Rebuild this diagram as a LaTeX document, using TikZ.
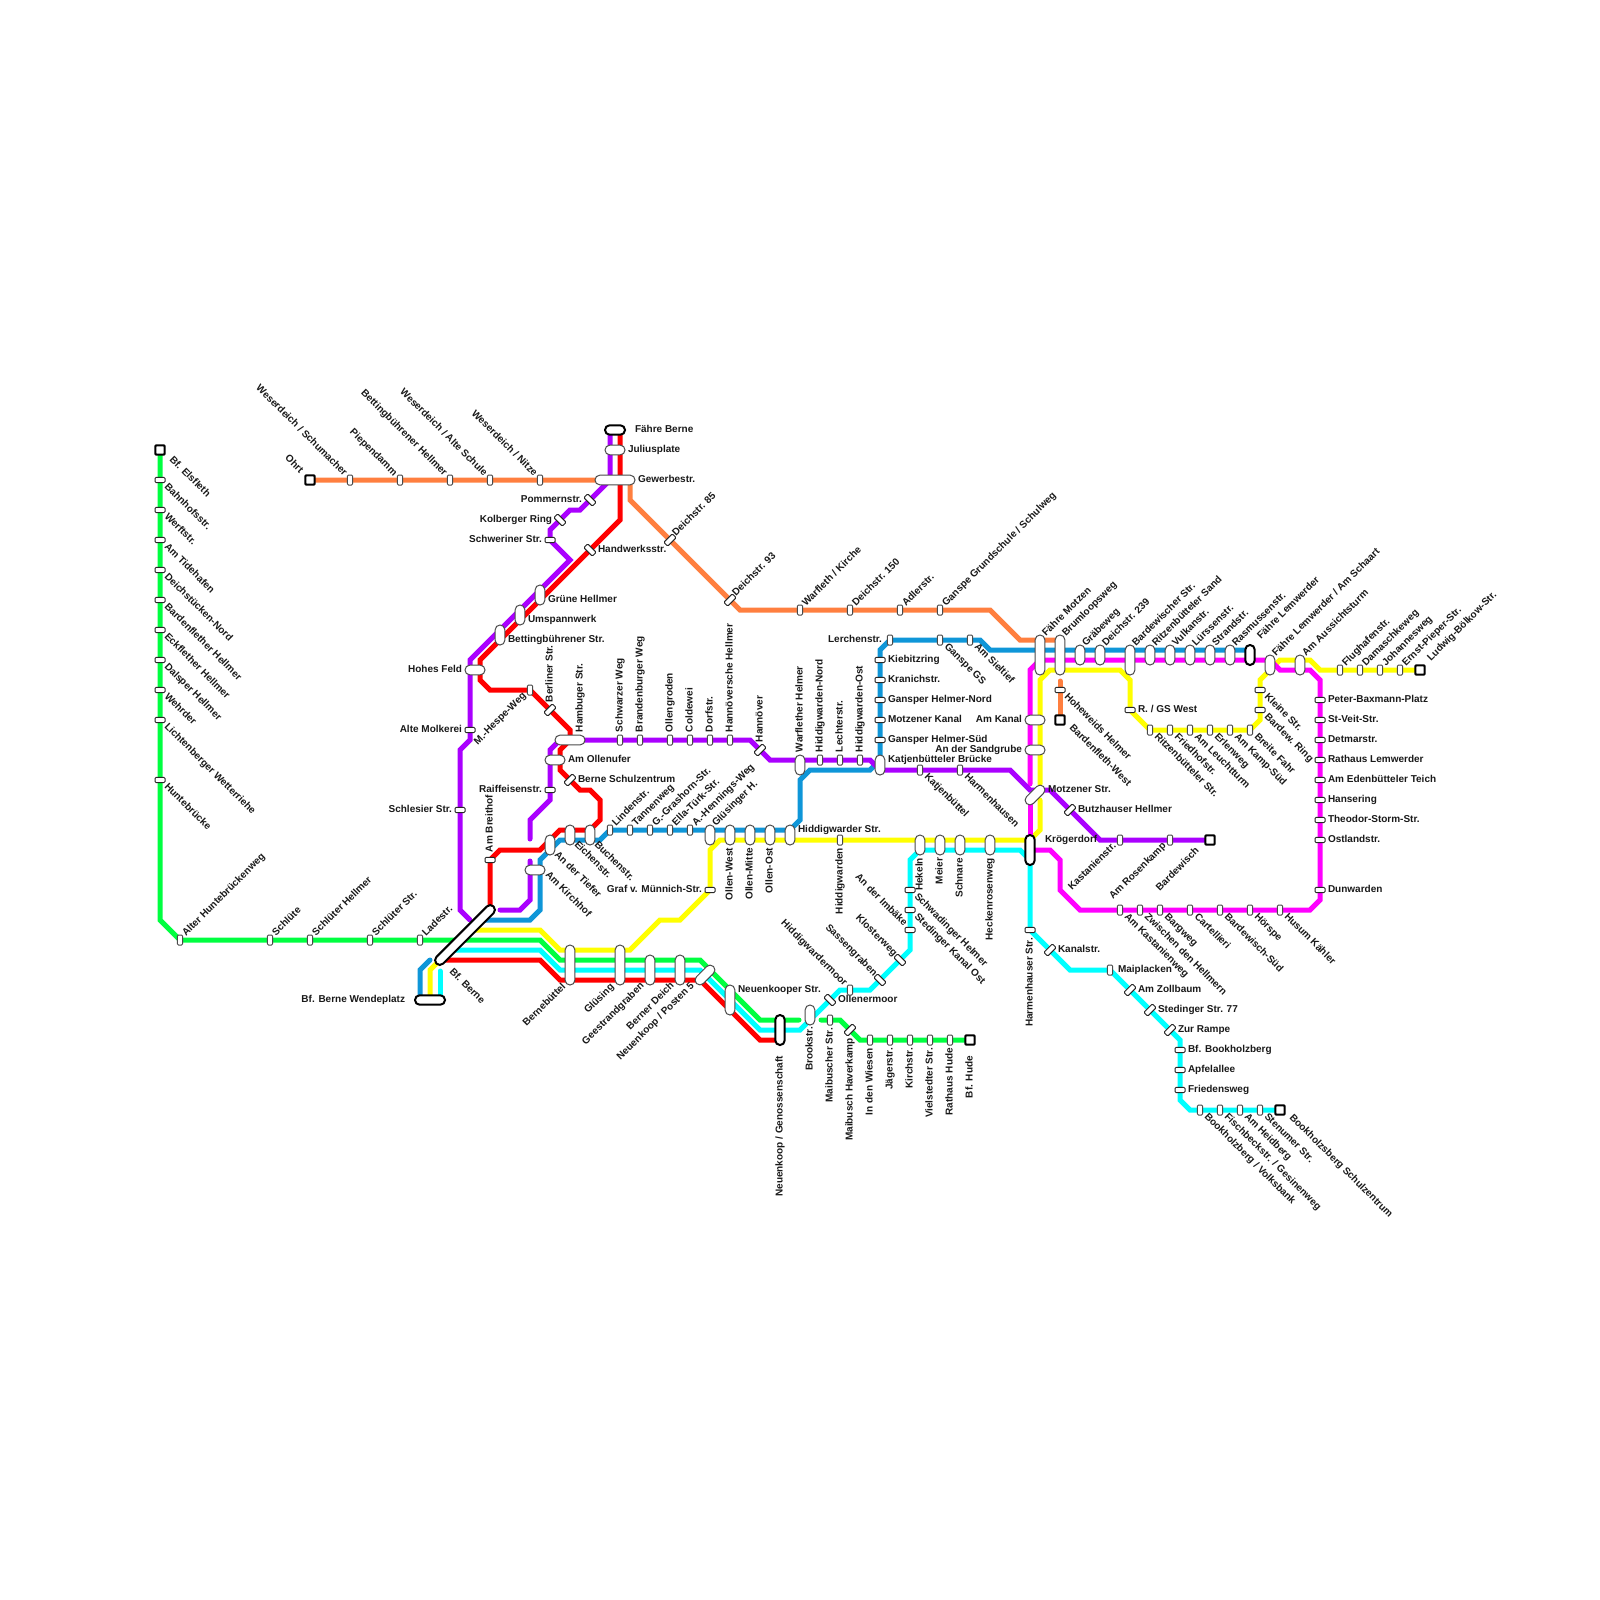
\documentclass[tikz,border=0pt]{standalone}
\usepackage{fontspec}
\setmainfont{Liberation Sans}
\usetikzlibrary{backgrounds}
\definecolor{cG}{HTML}{00FF40}
\definecolor{cO}{HTML}{FF7F3F}
\definecolor{cP}{HTML}{AA00FF}
\definecolor{cR}{HTML}{FF0000}
\definecolor{cY}{HTML}{FFFF00}
\definecolor{cC}{HTML}{00FFFF}
\definecolor{cB}{HTML}{0F96D8}
\definecolor{cM}{HTML}{FF00FF}
\definecolor{edge}{HTML}{4A4A4A}
\tikzset{
  rail/.style={line width=5pt,line cap=round,line join=miter},
  rG/.style={rail,draw=cG},rO/.style={rail,draw=cO},rP/.style={rail,draw=cP},rR/.style={rail,draw=cR},
  rY/.style={rail,draw=cY},rC/.style={rail,draw=cC},rB/.style={rail,draw=cB},rM/.style={rail,draw=cM},
  stop/.style={draw=edge,fill=white,line width=1pt,inner sep=0pt,outer sep=0pt},
  sh/.style={stop,draw=black!85,minimum width=10pt,minimum height=5.4pt,rounded corners=1.2pt},
  sv/.style={stop,minimum width=5.4pt,minimum height=10pt,rounded corners=1.2pt},
  sdu/.style={stop,draw=black!85,minimum width=12pt,minimum height=5.4pt,rounded corners=1.2pt,rotate=45},
  sdd/.style={stop,draw=black!85,minimum width=12pt,minimum height=5.4pt,rounded corners=1.2pt,rotate=-45},
  cv/.style={stop,minimum width=9.6pt,minimum height=#1,rounded corners=4.7pt},
  ch/.style={stop,minimum width=#1,minimum height=9.6pt,rounded corners=4.7pt},
  cdu/.style={stop,minimum width=#1,minimum height=9.6pt,rounded corners=4.7pt,rotate=45},
  term/.style={stop,draw=black,line width=2pt},
  tsq/.style={term,minimum width=9.4pt,minimum height=9.4pt,rounded corners=1pt},
  tv/.style={term,minimum width=9.4pt,minimum height=#1,rounded corners=4.6pt},
  th/.style={term,minimum width=#1,minimum height=9.4pt,rounded corners=4.6pt},
  tdu/.style={term,minimum width=#1,minimum height=9.4pt,rounded corners=4.6pt,rotate=45},
  lab/.style={inner sep=0pt,outer sep=0pt,text=black!90,font=\fontsize{10}{12}\selectfont\bfseries},
  lbR/.style={lab,anchor=base west},
  lbL/.style={lab,anchor=base east},
  lbU/.style={lab,anchor=base west,rotate=90},
  lbD/.style={lab,anchor=base east,rotate=90},
  lbUR/.style={lab,anchor=base west,rotate=45},
  lbDR/.style={lab,anchor=base west,rotate=-45},
  lbDL/.style={lab,anchor=base east,rotate=45},
  lbUL/.style={lab,anchor=base east,rotate=-45},
}
\def\dRx{8}\def\dRy{2.3}
\def\dLx{-8}\def\dLy{2.3}
\def\dUx{2.7}\def\dUy{-8}
\def\dDx{2.7}\def\dDy{8}
\def\dURx{6}\def\dURy{-3.5}
\def\dDRx{4}\def\dDRy{7}
\def\dDLx{-3.5}\def\dDLy{6.5}
\def\dULx{-6.5}\def\dULy{-3.5}
\newcommand\Sx[8]{\node[#2] (#1) at (#3,#4) {};
  \node[lb#5] (#1-l) at ([shift={(\csname d#5x\endcsname,\csname d#5y\endcsname)}]#6,#7) {#8};}
\newcommand\St[6]{\Sx{#1}{#2}{#3}{#4}{#5}{#3}{#4}{#6}}
\newcommand\Bn[3]{\coordinate (#1) at (#2,#3);}
\newcommand\Ln[2]{\gdef\pth{}\foreach \n [count=\i] in {#2}{\ifnum\i=1 \xdef\pth{(\n.center)}\else\xdef\pth{\pth -- (\n.center)}\fi}%
  \begin{pgfonlayer}{background}\edef\tmpd{\noexpand\draw[#1] \pth;}\tmpd\end{pgfonlayer}}
\begin{document}
\begin{tikzpicture}[x=1pt,y=-1pt]
\useasboundingbox (0,0) rectangle (1600,1600);
% ---------- green west
\Sx{elsf}{tsq}{160}{450}{DR}{165}{453}{Bf. Elsfleth}
\St{bahn}{sh}{160}{480}{DR}{Bahnhofsstr.}
\St{werf}{sh}{160}{510}{DR}{Werftstr.}
\St{tide}{sh}{160}{540}{DR}{Am Tidehafen}
\St{dnor}{sh}{160}{570}{DR}{Deichstücken-Nord}
\St{bafl}{sh}{160}{600}{DR}{Bardenflether Hellmer}
\St{eckf}{sh}{160}{630}{DR}{Eckflether Hellmer}
\St{dals}{sh}{160}{660}{DR}{Dalsper Hellmer}
\St{wehr}{sh}{160}{690}{DR}{Wehrder}
\St{lich}{sh}{160}{720}{DR}{Lichtenberger Wetterriehe}
\St{hunt}{sh}{160}{780}{DR}{Huntebrücke}
\St{alth}{sv}{180}{940}{UR}{Alter Huntebrückenweg}
\St{schl}{sv}{270}{940}{UR}{Schlüte}
\St{schh}{sv}{310}{940}{UR}{Schlüter Hellmer}
\St{schs}{sv}{370}{940}{UR}{Schlüter Str.}
\St{lade}{sv}{420}{940}{UR}{Ladestr.}
% ---------- Bf Berne block
\Sx{bfbe}{tdu=80.7pt}{465}{935}{DR}{445}{965}{Bf. Berne}
\Sx{wend}{th=30pt}{430}{1000}{L}{413}{1000}{Bf. Berne Wendeplatz}
\Sx{bern}{cv=40pt}{570}{965}{DL}{569.5}{981}{Bernebüttel}
\Sx{glue}{cv=40pt}{620}{965}{DL}{618}{981}{Glüsing}
\Sx{gees}{cv=30pt}{650}{970}{DL}{648}{980}{Geestrandgraben}
\Sx{bdei}{cv=30pt}{680}{970}{DL}{678}{980}{Berner Deich}
\Sx{post}{cdu=24pt}{705}{975}{DL}{698}{980}{Neuenkoop / Posten 5}
\Sx{nkoo}{cv=30pt}{730}{1000}{R}{730}{990}{Neuenkooper Str.}
\Sx{ngen}{tv=30pt}{780}{1030}{D}{780}{1048}{Neuenkoop / Genossenschaft}
\Sx{broo}{cv=20pt}{810}{1015}{D}{810}{1019}{Brookstr.}
% ---------- green east
\St{maib}{sv}{830}{1020}{D}{Maibuscher Str.}
\St{have}{sdu}{850}{1030}{D}{Maibusch Haverkamp}
\St{wies}{sv}{870}{1040}{D}{In den Wiesen}
\St{jaeg}{sv}{890}{1040}{D}{Jägerstr.}
\St{kirc}{sv}{910}{1040}{D}{Kirchstr.}
\St{viel}{sv}{930}{1040}{D}{Vielstedter Str.}
\St{rath}{sv}{950}{1040}{D}{Rathaus Hude}
\Sx{hude}{tsq}{970}{1040}{D}{970}{1048}{Bf. Hude}
% ---------- orange
\Sx{ohrt}{tsq}{310}{480}{UL}{306}{477}{Ohrt}
\St{wsch}{sv}{350}{480}{UL}{Weserdeich / Schumacher}
\St{pied}{sv}{400}{480}{UL}{Piependamm}
\St{bhel}{sv}{450}{480}{UL}{Bettingbührener Hellmer}
\St{walt}{sv}{490}{480}{UL}{Weserdeich / Alte Schule}
\St{wnit}{sv}{540}{480}{UL}{Weserdeich / Nitze}
\St{d85}{sdu}{670}{540}{UR}{Deichstr. 85}
\St{d93}{sdu}{730}{600}{UR}{Deichstr. 93}
\St{warf}{sv}{800}{610}{UR}{Warfleth / Kirche}
\St{d150}{sv}{850}{610}{UR}{Deichstr. 150}
\St{adle}{sv}{900}{610}{UR}{Adlerstr.}
\St{gang}{sv}{940}{610}{UR}{Ganspe Grundschule / Schulweg}
\St{hohe}{sh}{1060}{690}{DR}{Hoheweids Helmer}
\Sx{bawe}{tsq}{1060}{720}{DR}{1065}{721}{Bardenfleth-West}
% ---------- top junctions
\Sx{fber}{th=20pt}{615}{430}{R}{627}{430}{Fähre Berne}
\Sx{juli}{ch=20pt}{615}{450}{R}{620}{450}{Juliusplate}
\Sx{gewe}{ch=40pt}{615}{480}{R}{630}{480}{Gewerbestr.}
\St{pomm}{sdd}{590}{500}{L}{Pommernstr.}
\St{kolb}{sdd}{560}{520}{L}{Kolberger Ring}
\St{schw}{sh}{550}{540}{L}{Schweriner Str.}
\St{hand}{sdd}{590}{550}{R}{Handwerksstr.}
\Sx{grue}{cv=20pt}{540}{595}{R}{540}{600}{Grüne Hellmer}
\Sx{umsp}{cv=20pt}{520}{615}{R}{520}{620}{Umspannwerk}
\Sx{bets}{cv=20pt}{500}{635}{R}{500}{640}{Bettingbührener Str.}
\Sx{hohf}{ch=20pt}{475}{670}{L}{470}{670}{Hohes Feld}
\St{amol}{sh}{470}{730}{L}{Alte Molkerei}
\St{schl2}{sh}{460}{810}{L}{Schlesier Str.}
\St{hesp}{sv}{530}{690}{DL}{M.-Hespe-Weg}
\St{berl}{sdu}{550}{710}{U}{Berliner Str.}
\Sx{hamb}{ch=30pt}{570}{740}{U}{580}{740}{Hambuger Str.}
\Sx{olu}{ch=20pt}{555}{760}{R}{560}{760}{Am Ollenufer}
\St{schu}{sdu}{570}{780}{R}{Berne Schulzentrum}
\St{raif}{sh}{550}{790}{L}{Raiffeisenstr.}
\St{brei}{sh}{490}{860}{U}{Am Breithof}
\Sx{anti}{cv=20pt}{550}{845}{DR}{550}{848}{An der Tiefer}
\Sx{eich}{cv=20pt}{570}{835}{DR}{570}{838}{Eichenstr.}
\Sx{buch}{cv=20pt}{590}{835}{DR}{590}{838}{Buchenstr.}
\Sx{kirh}{ch=20pt}{535}{870}{DR}{541}{868}{Am Kirchhof}
% ---------- purple horizontal
\St{schwz}{sv}{620}{740}{U}{Schwarzer Weg}
\St{brand}{sv}{640}{740}{U}{Brandenburger Weg}
\St{olgr}{sv}{670}{740}{U}{Ollengroden}
\St{cold}{sv}{690}{740}{U}{Coldewei}
\St{dorf}{sv}{710}{740}{U}{Dorfstr.}
\St{hanh}{sv}{730}{740}{U}{Hannöversche Hellmer}
\St{hanv}{sdu}{760}{750}{U}{Hannöver}
\Sx{warh}{cv=20pt}{800}{765}{U}{800}{760}{Warflether Helmer}
\St{hnor}{sv}{820}{760}{U}{Hiddigwarden-Nord}
\St{lech}{sv}{840}{760}{U}{Lechterstr.}
\St{host}{sv}{860}{760}{U}{Hiddigwarden-Ost}
\Sx{katb}{cv=20pt}{880}{765}{R}{880}{760}{Katjenbütteler Brücke}
\St{katj}{sv}{920}{770}{DR}{Katjenbüttel}
\St{harm}{sv}{960}{770}{DR}{Harmenhausen}
\Sx{motz}{cdu=24pt}{1035}{795}{R}{1040}{790}{Motzener Str.}
\St{butz}{sdu}{1070}{810}{R}{Butzhauser Hellmer}
\St{kast}{sv}{1120}{840}{DL}{Kastanienstr.}
\St{rose}{sv}{1170}{840}{DL}{Am Rosenkamp}
\Sx{bawi}{tsq}{1210}{840}{DL}{1203}{845}{Bardewisch}
% ---------- blue row
\St{lind}{sv}{610}{830}{UR}{Lindenstr.}
\St{tann}{sv}{630}{830}{UR}{Tannenweg}
\St{gras}{sv}{650}{830}{UR}{G.-Grashorn-Str.}
\St{ella}{sv}{670}{830}{UR}{Ella-Türk-Str.}
\St{henn}{sv}{690}{830}{UR}{A.-Hennings-Weg}
\Sx{glhh}{cv=20pt}{710}{835}{UR}{710}{830}{Glüsinger H.}
\Sx{owes}{cv=20pt}{730}{835}{D}{730}{840}{Ollen-West}
\Sx{omit}{cv=20pt}{750}{835}{D}{750}{840}{Ollen-Mitte}
\Sx{oost}{cv=20pt}{770}{835}{D}{770}{840}{Ollen-Ost}
\Sx{hids}{cv=20pt}{790}{835}{R}{790}{830}{Hiddigwarder Str.}
\St{graf}{sh}{710}{890}{L}{Graf v. Münnich-Str.}
\St{hidw}{sv}{840}{840}{D}{Hiddigwarden}
% ---------- blue column
\St{lerc}{sv}{890}{640}{L}{Lerchenstr.}
\St{gsgs}{sv}{940}{640}{DR}{Ganspe GS}
\St{siel}{sv}{970}{640}{DR}{Am Sieltief}
\St{kieb}{sh}{880}{660}{R}{Kiebitzring}
\St{kran}{sh}{880}{680}{R}{Kranichstr.}
\St{gnor}{sh}{880}{700}{R}{Gansper Helmer-Nord}
\St{moka}{sh}{880}{720}{R}{Motzener Kanal}
\St{gsue}{sh}{880}{740}{R}{Gansper Helmer-Süd}
% ---------- east junction row
\Sx{fmot}{cv=40pt}{1040}{655}{UR}{1040}{640}{Fähre Motzen}
\Sx{brum}{cv=40pt}{1060}{655}{UR}{1060}{640}{Brumloopsweg}
\Sx{grae}{cv=20pt}{1080}{655}{UR}{1080}{650}{Gräbeweg}
\Sx{d239}{cv=20pt}{1100}{655}{UR}{1100}{650}{Deichstr. 239}
\Sx{bars}{cv=30pt}{1130}{660}{UR}{1130}{650}{Bardewischer Str.}
\Sx{rits}{cv=20pt}{1150}{655}{UR}{1150}{650}{Ritzenbütteler Sand}
\Sx{vulk}{cv=20pt}{1170}{655}{UR}{1170}{650}{Vulkanstr.}
\Sx{luer}{cv=20pt}{1190}{655}{UR}{1190}{650}{Lürssenstr.}
\Sx{stra}{cv=20pt}{1210}{655}{UR}{1210}{650}{Strandstr.}
\Sx{rasm}{cv=20pt}{1230}{655}{UR}{1230}{650}{Rasmussenstr.}
\Sx{flem}{tv=20pt}{1250}{655}{UR}{1255}{643}{Fähre Lemwerder}
\Sx{fsch}{cv=20pt}{1270}{665}{UR}{1270}{660}{Fähre Lemwerder / Am Schaart}
\Sx{auss}{cv=20pt}{1300}{665}{UR}{1300}{660}{Am Aussichtsturm}
\St{flug}{sv}{1340}{670}{UR}{Flughafenstr.}
\St{dama}{sv}{1360}{670}{UR}{Damaschkeweg}
\St{joha}{sv}{1380}{670}{UR}{Johannesweg}
\St{erns}{sv}{1400}{670}{UR}{Ernst-Pieper-Str.}
\Sx{ludw}{tsq}{1420}{670}{UR}{1425}{665}{Ludwig-Bölkow-Str.}
\Sx{akan}{ch=20pt}{1035}{720}{L}{1030}{720}{Am Kanal}
\Sx{sand}{ch=20pt}{1035}{750}{L}{1030}{750}{An der Sandgrube}
\Sx{krog}{tv=30pt}{1030}{850}{R}{1037}{840}{Krögerdorf}
% ---------- yellow loop
\St{rgsw}{sh}{1130}{710}{R}{R. / GS West}
\St{ritz}{sv}{1150}{730}{DR}{Ritzenbütteler Str.}
\St{frie}{sv}{1170}{730}{DR}{Friedhofstr.}
\St{leuc}{sv}{1190}{730}{DR}{Am Leuchtturm}
\St{erle}{sv}{1210}{730}{DR}{Erlenweg}
\St{kamp}{sv}{1230}{730}{DR}{Am Kamp-Süd}
\St{bfah}{sv}{1250}{730}{DR}{Breite Fahr}
\St{brng}{sh}{1260}{710}{DR}{Bardew. Ring}
\St{klei}{sh}{1260}{690}{DR}{Kleine Str.}
% ---------- magenta
\St{pete}{sh}{1320}{700}{R}{Peter-Baxmann-Platz}
\St{veit}{sh}{1320}{720}{R}{St-Veit-Str.}
\St{detm}{sh}{1320}{740}{R}{Detmarstr.}
\St{rale}{sh}{1320}{760}{R}{Rathaus Lemwerder}
\St{eden}{sh}{1320}{780}{R}{Am Edenbütteler Teich}
\St{hans}{sh}{1320}{800}{R}{Hansering}
\St{theo}{sh}{1320}{820}{R}{Theodor-Storm-Str.}
\St{ostl}{sh}{1320}{840}{R}{Ostlandstr.}
\St{dunw}{sh}{1320}{890}{R}{Dunwarden}
\St{husu}{sv}{1280}{910}{DR}{Husum Kähler}
\St{hoer}{sv}{1250}{910}{DR}{Hörspe}
\St{bsue}{sv}{1220}{910}{DR}{Bardewisch-Süd}
\St{cart}{sv}{1190}{910}{DR}{Cartellieri}
\St{barg}{sv}{1160}{910}{DR}{Bargweg}
\St{zwis}{sv}{1140}{910}{DR}{Zwischen den Hellmern}
\St{akas}{sv}{1120}{910}{DR}{Am Kastanienweg}
% ---------- cyan
\St{olle}{sdd}{830}{1000}{R}{Ollenermoor}
\St{hidm}{sv}{850}{990}{UL}{Hiddigwardermoor}
\St{sass}{sdd}{880}{980}{UL}{Sassengraben}
\St{klos}{sdd}{900}{960}{UL}{Klosterweg}
\St{imba}{sh}{910}{930}{UL}{An der Imbäke}
\St{sted}{sh}{910}{910}{DR}{Stedinger Kanal Ost}
\St{schd}{sh}{910}{890}{DR}{Schwadinger Helmer}
\Sx{heke}{cv=20pt}{920}{845}{D}{920}{850}{Hekeln}
\Sx{meie}{cv=20pt}{940}{845}{D}{940}{850}{Meier}
\Sx{schn}{cv=20pt}{960}{845}{D}{960}{850}{Schnare}
\Sx{heck}{cv=20pt}{990}{845}{D}{990}{850}{Heckenrosenweg}
\St{hstr}{sh}{1030}{930}{D}{Harmenhauser Str.}
\St{kana}{sdu}{1050}{950}{R}{Kanalstr.}
\St{maip}{sv}{1110}{970}{R}{Maiplacken}
\St{zoll}{sdu}{1130}{990}{R}{Am Zollbaum}
\St{st77}{sdu}{1150}{1010}{R}{Stedinger Str. 77}
\St{ramp}{sdu}{1170}{1030}{R}{Zur Rampe}
\St{bbok}{sh}{1180}{1050}{R}{Bf. Bookholzberg}
\St{apfe}{sh}{1180}{1070}{R}{Apfelallee}
\St{frdw}{sh}{1180}{1090}{R}{Friedensweg}
\St{volk}{sv}{1200}{1110}{DR}{Bookholzberg / Volksbank}
\St{fisc}{sv}{1220}{1110}{DR}{Fischbeckstr. / Gesinenweg}
\St{heid}{sv}{1240}{1110}{DR}{Am Heidberg}
\St{sten}{sv}{1260}{1110}{DR}{Stenumer Str.}
\Sx{bosc}{tsq}{1280}{1110}{DR}{1285}{1111}{Bookholzsberg Schulzentrum}
% ---------- bend coordinates
\Bn{g1}{160}{920}\Bn{g2}{540}{940}\Bn{g3}{560}{960}\Bn{g4}{700}{960}\Bn{g5}{760}{1020}\Bn{g6}{799}{1020}
\Bn{g7}{821}{1020}\Bn{g8}{840}{1020}\Bn{g9}{860}{1040}
\Bn{o1}{630}{480}\Bn{o2}{630}{500}\Bn{o3}{740}{610}\Bn{o4}{990}{610}\Bn{o5}{1020}{640}\Bn{o6}{1060}{640}\Bn{o7}{1060}{681}
\Bn{p1}{610}{430}\Bn{p2}{610}{480}\Bn{p3}{580}{510}\Bn{p4}{570}{510}\Bn{p5}{550}{530}\Bn{p6}{570}{560}\Bn{p7}{470}{660}\Bn{p8}{470}{740}\Bn{p9}{460}{750}\Bn{p10}{460}{910}\Bn{p11}{470}{920}
\Bn{q1}{560}{740}\Bn{q2}{550}{750}\Bn{q3}{550}{800}\Bn{q4}{530}{820}\Bn{q5}{530}{839}\Bn{q6}{530}{861}\Bn{q7}{530}{900}\Bn{q8}{520}{910}\Bn{q9}{500}{910}
\Bn{q10}{750}{740}\Bn{q11}{770}{760}\Bn{q12}{870}{760}\Bn{q13}{880}{770}\Bn{q14}{1010}{770}\Bn{q15}{1030}{790}\Bn{q16}{1050}{790}\Bn{q17}{1100}{840}
\Bn{r1}{620}{430}\Bn{r2}{620}{520}\Bn{r3}{480}{660}\Bn{r4}{480}{680}\Bn{r5}{490}{690}\Bn{r6}{570}{730}\Bn{r7}{570}{740}\Bn{r8}{560}{750}\Bn{r9}{560}{770}\Bn{r10}{580}{790}\Bn{r11}{590}{790}\Bn{r12}{600}{800}\Bn{r13}{600}{820}\Bn{r14}{590}{830}\Bn{r15}{560}{830}\Bn{r16}{540}{850}\Bn{r17}{500}{850}\Bn{r18}{490}{910}
\Bn{r19}{440}{960}\Bn{r20}{540}{960}\Bn{r21}{560}{980}\Bn{r22}{700}{980}\Bn{r23}{760}{1040}\Bn{r24}{780}{1040}
\Bn{c1}{450}{950}\Bn{c2}{540}{950}\Bn{c3}{560}{970}\Bn{c4}{700}{970}\Bn{c5}{760}{1030}\Bn{c6}{800}{1030}\Bn{c7}{840}{990}\Bn{c8}{870}{990}\Bn{c9}{910}{950}\Bn{c10}{910}{860}\Bn{c11}{920}{850}\Bn{c12}{1020}{850}\Bn{c13}{1030}{860}\Bn{c14}{1070}{970}\Bn{c15}{1180}{1040}\Bn{c16}{1180}{1100}\Bn{c17}{1190}{1110}\Bn{c18}{440}{971}\Bn{c19}{440}{1000}
\Bn{y1}{470}{930}\Bn{y2}{540}{930}\Bn{y3}{560}{950}\Bn{y4}{630}{950}\Bn{y5}{660}{920}\Bn{y6}{680}{920}\Bn{y7}{710}{850}\Bn{y8}{720}{840}\Bn{y9}{1030}{840}\Bn{y10}{1040}{830}\Bn{y11}{1040}{800}\Bn{y12}{1040}{784}\Bn{y13}{1040}{680}\Bn{y14}{1050}{670}\Bn{y15}{1120}{670}\Bn{y16}{1130}{680}\Bn{y17}{1260}{720}\Bn{y18}{1260}{680}\Bn{y19}{1270}{670}\Bn{y20}{1280}{660}\Bn{y21}{1310}{660}\Bn{y22}{1320}{670}\Bn{y23}{440}{960}\Bn{y24}{430}{970}\Bn{y25}{430}{1000}
\Bn{b1}{480}{920}\Bn{b2}{530}{920}\Bn{b3}{540}{910}\Bn{b4}{540}{860}\Bn{b5}{560}{840}\Bn{b6}{600}{840}\Bn{b7}{790}{830}\Bn{b8}{800}{820}\Bn{b9}{800}{780}\Bn{b10}{810}{770}\Bn{b11}{870}{770}\Bn{b12}{880}{760}\Bn{b13}{880}{650}\Bn{b14}{980}{640}\Bn{b15}{990}{650}\Bn{b16}{1250}{650}\Bn{b17}{430}{960}\Bn{b18}{420}{970}\Bn{b19}{420}{1000}
\Bn{m1}{1030}{840}\Bn{m2}{1030}{800}\Bn{m3}{1030}{784}\Bn{m4}{1030}{670}\Bn{m5}{1040}{660}\Bn{m6}{1270}{660}\Bn{m7}{1280}{670}\Bn{m8}{1310}{670}\Bn{m9}{1320}{680}\Bn{m10}{1320}{900}\Bn{m11}{1310}{910}\Bn{m12}{1080}{910}\Bn{m13}{1060}{890}\Bn{m14}{1060}{860}\Bn{m15}{1050}{850}\Bn{m16}{1030}{850}
% ---------- lines
\Ln{rG}{elsf,bahn,werf,tide,dnor,bafl,eckf,dals,wehr,lich,hunt,g1,alth,schl,schh,schs,lade,g2,g3,g4,g5,g6}
\Ln{rG}{g7,maib,g8,have,g9,wies,jaeg,kirc,viel,rath,hude}
\Ln{rO}{ohrt,wsch,pied,bhel,walt,wnit,o1,o2,d85,d93,o3,warf,d150,adle,gang,o4,o5,o6}
\Ln{rO}{o7,hohe,bawe}
\Ln{rB}{b1,b2,b3,b4,b5,b6,lind,tann,gras,ella,henn,b7,b8,b9,b10,b11,b12,gsue,moka,gnor,kran,kieb,b13,lerc,gsgs,siel,b14,b15,b16}
\Ln{rB}{b17,b18,b19}
\Ln{rY}{y1,y2,y3,y4,y5,y6,graf,y7,y8,hidw,y9,y10,y11}
\Ln{rY}{y12,y13,y14,y15,y16,rgsw,ritz,frie,leuc,erle,kamp,bfah,y17,brng,klei,y18,y19,y20,y21,y22,flug,dama,joha,erns,ludw}
\Ln{rY}{y23,y24,y25}
\Ln{rM}{m1,m2}
\Ln{rM}{m3,m4,m5,m6,m7,m8,m9,pete,veit,detm,rale,eden,hans,theo,ostl,dunw,m10,m11,husu,hoer,bsue,cart,barg,zwis,akas,m12,m13,m14,m15,m16}
\Ln{rC}{c1,c2,c3,c4,c5,c6,olle,c7,hidm,c8,sass,klos,c9,imba,sted,schd,c10,c11,c12,c13,hstr,kana,c14,maip,zoll,st77,ramp,c15,bbok,apfe,frdw,c16,c17,volk,fisc,heid,sten,bosc}
\Ln{rC}{c18,c19}
\Ln{rP}{p1,p2,pomm,p3,p4,kolb,p5,schw,p6,p7,amol,p8,p9,schl2,p10,p11}
\Ln{rP}{q1,q2,raif,q3,q4,q5}
\Ln{rP}{q6,q7,q8,q9}
\Ln{rP}{q1,schwz,brand,olgr,cold,dorf,hanh,q10,hanv,q11,hnor,lech,host,q12,q13,katj,harm,q14,q15,q16,butz,q17,kast,rose,bawi}
\Ln{rR}{r1,r2,hand,r3,r4,r5,hesp,berl,r6,r7,r8,r9,schu,r10,r11,r12,r13,r14,r15,r16,r17,brei,r18}
\Ln{rR}{r19,r20,r21,r22,r23,r24}
\end{tikzpicture}
\end{document}
